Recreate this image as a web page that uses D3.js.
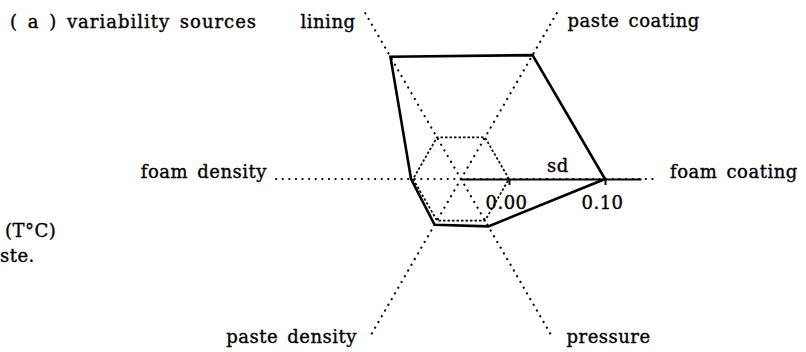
<!DOCTYPE html>
<html lang="en">
<head>
<meta charset="utf-8">
<title>variability sources</title>
<style>
  body { margin: 0; background: #fff; }
  svg text { font-family: "DejaVu Serif", serif; font-size: 18px; fill: #000;
             stroke: #000; stroke-width: 0.35; letter-spacing: 0.5px; word-spacing: 3px; }
  .axisline { fill: none; stroke: #000; stroke-width: 2.2; stroke-linecap: round; stroke-dasharray: 0.1 6.5; }
  .zero { fill: none; stroke: #000; stroke-width: 1.7; stroke-dasharray: 2.5 2; }
  .poly { fill: none; stroke: #000; stroke-width: 2.6; stroke-linejoin: miter; }
  .sd path, .sd line { stroke: #000; stroke-width: 2; }
</style>
<script src="https://d3js.org/d3.v7.min.js"></script>
</head>
<body>
<svg id="chart" width="806" height="352"></svg>
<script>
// axes of the star plot, counter-clockwise from the right
var axes = ["foam coating", "paste coating", "lining", "foam density", "paste density", "pressure"];
var angles = [0, 60, 120, 180, 240, 300];
// standard deviation per variability source
var sdValues = [0.100, 0.099, 0.097, 0.002, 0.005, 0.007];
var tickValues = [0.00, 0.10];

var cx = 461, cy = 179;

// length of each dotted axis (px) and label offsets from its end
var axisLen = {"foam coating": 197, "paste coating": 197, "lining": 195,
               "foam density": 188, "paste density": 184, "pressure": 183};
var labelPos = {
  "foam coating":  {dx: 12,  dy: -1,  anchor: "start"},
  "paste coating": {dx: 8,   dy: 19,  anchor: "start"},
  "lining":        {dx: -8,  dy: 18,  anchor: "end"},
  "foam density":  {dx: -6,  dy: -1,  anchor: "end"},
  "paste density": {dx: -12, dy: 5,   anchor: "end"},
  "pressure":      {dx: 14,  dy: 5.5, anchor: "start"}
};

// radial scale: sd 0 sits on the small hexagon, centre is sd -0.05
var r = d3.scaleLinear().domain([-0.05, 0.1375]).range([0, 180]);

function pt(angle, radius) {
  var a = angle * Math.PI / 180;
  return [cx + radius * Math.cos(a), cy - radius * Math.sin(a)];
}

var svg = d3.select("#chart");

// dotted axes
svg.selectAll(".axisline")
  .data(axes)
  .enter().append("line")
    .attr("class", "axisline")
    .attr("x1", cx).attr("y1", cy)
    .attr("x2", function(d, i) { return pt(angles[i], axisLen[d])[0]; })
    .attr("y2", function(d, i) { return pt(angles[i], axisLen[d])[1]; });

// axis labels
svg.selectAll(".alabel")
  .data(axes)
  .enter().append("text")
    .attr("class", "alabel")
    .attr("x", function(d, i) { return pt(angles[i], axisLen[d])[0] + labelPos[d].dx; })
    .attr("y", function(d, i) { return pt(angles[i], axisLen[d])[1] + labelPos[d].dy; })
    .attr("text-anchor", function(d) { return labelPos[d].anchor; })
    .text(function(d) { return d; });

var line = d3.line().curve(d3.curveLinearClosed);

// zero reference hexagon
svg.append("path")
  .attr("class", "zero")
  .attr("d", line(angles.map(function(a) { return pt(a, r(0)); })));

// sd scale along the foam coating axis
var sdAxis = d3.axisBottom(r)
  .tickValues(tickValues)
  .tickFormat(d3.format(".2f"))
  .tickSize(6)
  .tickSizeOuter(0)
  .tickPadding(11);

var gAxis = svg.append("g")
  .attr("class", "sd")
  .attr("transform", "translate(" + cx + "," + cy + ")")
  .call(sdAxis);
gAxis.selectAll("text")
  .attr("font-family", "DejaVu Serif, serif")
  .attr("font-size", 18)
  .attr("dx", -3);

svg.append("text")
  .attr("x", cx + r(0.1) - 47)
  .attr("y", cy - 7)
  .attr("text-anchor", "middle")
  .text("sd");

// variability polygon
svg.append("path")
  .attr("class", "poly")
  .attr("d", line(sdValues.map(function(v, i) { return pt(angles[i], r(v)); })));

// title and stray text from the neighbouring panel
svg.append("text").attr("x", 10).attr("y", 28).style("letter-spacing", "1px").text("( a ) variability sources");
svg.append("text").attr("x", 5).attr("y", 237).text("(T°C)");
svg.append("text").attr("x", 0).attr("y", 262).text("ste.");
</script>
</body>
</html>
